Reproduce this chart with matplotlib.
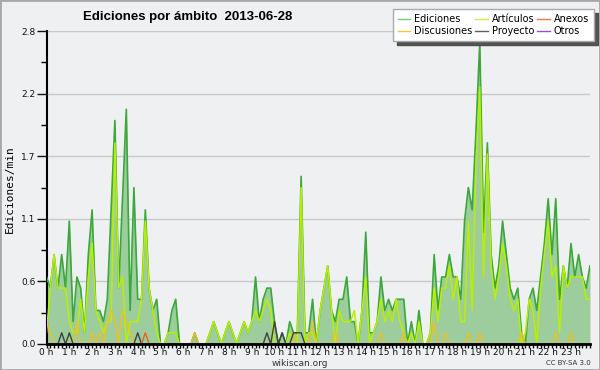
import numpy as np
import matplotlib
matplotlib.use("Agg")
import matplotlib.pyplot as plt
from matplotlib.patches import Rectangle
from matplotlib.lines import Line2D

# edits per minute, 10 minute bins, 2013-06-28 00:00 -> 23:50
ediciones = [
    0.6, 0.5, 0.8, 0.5, 0.8, 0.5, 1.1, 0.2, 0.6, 0.5, 0.1, 0.8,
    1.2, 0.3, 0.3, 0.2, 0.4, 1.2, 2.0, 0.5, 1.3, 2.1, 0.3, 1.4,
    0.4, 0.4, 1.2, 0.5, 0.3, 0.4, 0.0, 0.0, 0.1, 0.3, 0.4, 0.0,
    0.0, 0.0, 0.0, 0.1, 0.0, 0.0, 0.0, 0.1, 0.2, 0.1, 0.0, 0.1,
    0.2, 0.1, 0.0, 0.1, 0.2, 0.1, 0.2, 0.6, 0.2, 0.4, 0.5, 0.5,
    0.2, 0.0, 0.1, 0.0, 0.2, 0.1, 0.1, 1.5, 0.1, 0.1, 0.4, 0.0,
    0.3, 0.5, 0.7, 0.3, 0.2, 0.4, 0.4, 0.6, 0.2, 0.2, 0.0, 0.3,
    1.0, 0.1, 0.1, 0.2, 0.6, 0.3, 0.4, 0.3, 0.4, 0.4, 0.4, 0.0,
    0.2, 0.0, 0.3, 0.0, 0.0, 0.1, 0.8, 0.3, 0.6, 0.6, 0.8, 0.6,
    0.6, 0.4, 1.1, 1.4, 1.2, 1.9, 2.7, 1.0, 1.8, 0.8, 0.5, 0.7,
    1.1, 0.8, 0.5, 0.4, 0.5, 0.1, 0.0, 0.4, 0.5, 0.3, 0.6, 0.9,
    1.3, 0.8, 1.3, 0.4, 0.7, 0.5, 0.9, 0.6, 0.8, 0.6, 0.5, 0.7,
]
articulos = [
    0.1, 0.5, 0.8, 0.5, 0.5, 0.5, 0.2, 0.1, 0.1, 0.4, 0.1, 0.6,
    0.9, 0.3, 0.2, 0.1, 0.2, 0.2, 1.8, 0.5, 0.6, 0.0, 0.2, 0.2,
    0.2, 0.4, 1.1, 0.5, 0.3, 0.1, 0.0, 0.0, 0.1, 0.1, 0.1, 0.0,
    0.0, 0.0, 0.0, 0.0, 0.0, 0.0, 0.0, 0.1, 0.2, 0.1, 0.0, 0.1,
    0.2, 0.1, 0.0, 0.1, 0.2, 0.1, 0.2, 0.3, 0.2, 0.3, 0.4, 0.3,
    0.0, 0.0, 0.0, 0.0, 0.1, 0.0, 0.0, 1.4, 0.0, 0.1, 0.1, 0.0,
    0.3, 0.5, 0.7, 0.3, 0.0, 0.3, 0.2, 0.2, 0.2, 0.3, 0.0, 0.3,
    0.6, 0.0, 0.1, 0.2, 0.4, 0.2, 0.3, 0.2, 0.4, 0.2, 0.1, 0.0,
    0.1, 0.0, 0.2, 0.0, 0.0, 0.1, 0.5, 0.2, 0.5, 0.5, 0.7, 0.4,
    0.6, 0.2, 0.2, 1.1, 0.3, 1.6, 2.3, 0.6, 1.7, 0.7, 0.4, 0.6,
    0.9, 0.7, 0.4, 0.3, 0.4, 0.0, 0.1, 0.4, 0.3, 0.0, 0.5, 0.8,
    1.1, 0.6, 0.7, 0.1, 0.7, 0.5, 0.6, 0.6, 0.6, 0.6, 0.4, 0.4,
]
discusiones = [
    0.2, 0.1, 0.0, 0.0, 0.0, 0.0, 0.0, 0.0, 0.2, 0.0, 0.0, 0.0,
    0.1, 0.0, 0.1, 0.0, 0.2, 0.3, 0.2, 0.0, 0.3, 0.2, 0.1, 0.0,
    0.0, 0.0, 0.0, 0.0, 0.0, 0.0, 0.0, 0.0, 0.0, 0.0, 0.0, 0.0,
    0.0, 0.0, 0.0, 0.1, 0.0, 0.0, 0.0, 0.0, 0.0, 0.0, 0.0, 0.0,
    0.0, 0.0, 0.0, 0.0, 0.0, 0.0, 0.0, 0.0, 0.0, 0.0, 0.0, 0.0,
    0.0, 0.0, 0.0, 0.0, 0.0, 0.1, 0.0, 0.0, 0.0, 0.0, 0.2, 0.0,
    0.0, 0.0, 0.0, 0.0, 0.1, 0.0, 0.0, 0.0, 0.0, 0.0, 0.0, 0.0,
    0.0, 0.0, 0.0, 0.0, 0.1, 0.0, 0.0, 0.0, 0.0, 0.0, 0.1, 0.0,
    0.0, 0.0, 0.0, 0.0, 0.0, 0.0, 0.2, 0.0, 0.0, 0.1, 0.0, 0.0,
    0.0, 0.0, 0.0, 0.1, 0.0, 0.0, 0.1, 0.0, 0.0, 0.0, 0.0, 0.0,
    0.0, 0.0, 0.0, 0.0, 0.0, 0.1, 0.0, 0.0, 0.0, 0.0, 0.0, 0.0,
    0.0, 0.0, 0.1, 0.0, 0.0, 0.0, 0.1, 0.0, 0.0, 0.0, 0.0, 0.0,
]
proyecto = [
    0.0, 0.0, 0.0, 0.0, 0.1, 0.0, 0.1, 0.0, 0.0, 0.0, 0.0, 0.0,
    0.0, 0.0, 0.0, 0.0, 0.0, 0.0, 0.0, 0.0, 0.0, 0.0, 0.0, 0.0,
    0.1, 0.0, 0.0, 0.0, 0.0, 0.0, 0.0, 0.0, 0.0, 0.0, 0.0, 0.0,
    0.0, 0.0, 0.0, 0.0, 0.0, 0.0, 0.0, 0.0, 0.0, 0.0, 0.0, 0.0,
    0.0, 0.0, 0.0, 0.0, 0.0, 0.0, 0.0, 0.0, 0.0, 0.0, 0.1, 0.0,
    0.2, 0.0, 0.1, 0.0, 0.0, 0.1, 0.1, 0.1, 0.0, 0.0, 0.0, 0.0,
] + [0.0] * 72
anexos = [0.0] * 26 + [0.1] + [0.0] * 117
otros = [0.0] * 144

hours = np.arange(len(ediciones)) / 6.0
hour_labels = ["%d h" % h for h in range(24)]
ytick_labels = ["0.0", "0.6", "1.1", "1.7", "2.2", "2.8"]

bg = "#eff0f2"
fig = plt.figure(figsize=(6, 3.7), dpi=100, facecolor=bg)
ax = fig.add_axes([0.0775, 0.0703, 0.9058, 0.8457])
ax.set_facecolor(bg)

ax.fill_between(hours, ediciones, 0, color="#9dcc9d", lw=0, zorder=2)
ax.plot(hours, ediciones, color="#3aa83a", lw=1.2, zorder=3)
ax.plot(hours, articulos, color="#b8f000", lw=1.1, zorder=4)
ax.plot(hours, discusiones, color="#f0c020", lw=1.0, zorder=5)
ax.plot(hours, proyecto, color="#404040", lw=1.0, zorder=6)
ax.plot(hours, anexos, color="#f06020", lw=1.0, zorder=6)
ax.plot(hours, otros, color="#9040e0", lw=1.0, zorder=1)

ax.set_xlim(0, hours[-1])
ax.set_ylim(0, 2.8)

ax.set_yticks(np.linspace(0, 2.8, 6))
ax.set_yticklabels(ytick_labels)
ax.set_yticks(np.linspace(0.28, 2.52, 5), minor=True)
ax.set_xticks(range(24))
ax.set_xticklabels(hour_labels)
ax.set_xticks(hours, minor=True)

ax.tick_params(axis="y", which="major", length=7, width=1, labelsize=6.5, pad=1, colors="#111")
ax.tick_params(axis="y", which="minor", length=4, width=1)
ax.tick_params(axis="x", which="major", length=3, width=1, labelsize=6.5, pad=0, colors="#111")
ax.tick_params(axis="x", which="minor", length=3, width=1)

ax.grid(axis="y", which="major", color="#c8c8c8", lw=1, zorder=0)
ax.set_axisbelow(True)
for s in ["top", "right"]:
    ax.spines[s].set_visible(False)
ax.spines["left"].set_linewidth(1.5)
ax.spines["bottom"].set_linewidth(2)
ax.spines["bottom"].set_zorder(10)

fig.text(0.313, 0.953, "Ediciones por ámbito  2013-06-28", fontsize=9.5,
         fontweight="bold", family="Liberation Sans", ha="center", va="center")
fig.text(0.017, 0.49, "Ediciones/min", rotation=90, fontsize=8,
         family="DejaVu Sans Mono", ha="center", va="center")
fig.text(0.5, 0.018, "wikiscan.org", fontsize=6.5, color="#333", ha="center", va="center")
fig.text(0.985, 0.018, "CC BY-SA 3.0", fontsize=5, color="#333", ha="right", va="center")

names = ["Ediciones", "Discusiones", "Artículos", "Proyecto", "Anexos", "Otros"]
cols = ["#7ccc7c", "#f0c830", "#c8f050", "#606060", "#f07850", "#9050e0"]
handles = [Line2D([], [], color=c, lw=1) for c in cols]
leg = ax.legend(handles, names, ncol=3, loc="upper right",
                bbox_to_anchor=(0.99, 0.975), bbox_transform=fig.transFigure,
                borderaxespad=0, prop={"family": "DejaVu Sans", "size": 7},
                handlelength=1.3, handletextpad=0.4,
                columnspacing=0.3, labelspacing=0.2, borderpad=0.5,
                fancybox=False, framealpha=1, edgecolor="#aaaaaa",
                shadow={"ox": 3, "oy": -3, "facecolor": "#555555", "alpha": 1})
leg.set_zorder(20)

fig.patches.append(Rectangle((0, 0), 1, 1, transform=fig.transFigure,
                             fill=False, edgecolor="#a8a8a8", lw=2))

fig.savefig("out.png", dpi=100, facecolor=bg)
